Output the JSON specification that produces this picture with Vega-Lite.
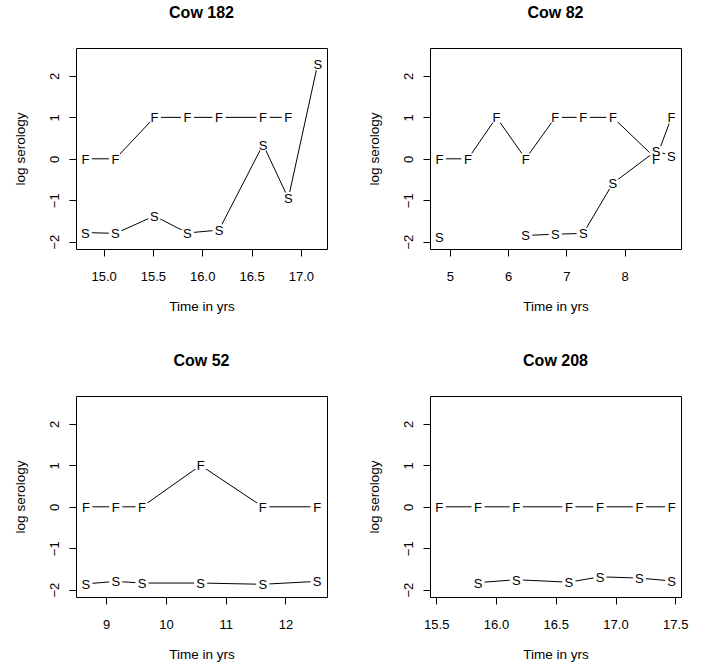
{
  "$schema": "https://vega.github.io/schema/vega-lite/v6.json",
  "padding": {"left": 12, "top": 4, "right": 5, "bottom": 5},
  "background": "white",
  "datasets": {
    "cows": [
      {"cow": "182", "t": 14.815, "series": "F", "value": 0},
      {"cow": "182", "t": 15.12, "series": "F", "value": 0},
      {"cow": "182", "t": 15.515, "series": "F", "value": 1},
      {"cow": "182", "t": 15.85, "series": "F", "value": 1},
      {"cow": "182", "t": 16.17, "series": "F", "value": 1},
      {"cow": "182", "t": 16.617, "series": "F", "value": 1},
      {"cow": "182", "t": 16.873, "series": "F", "value": 1},
      {"cow": "182", "t": 17.171, "series": "F", "value": null},
      {"cow": "182", "t": 14.815, "series": "S", "value": -1.78},
      {"cow": "182", "t": 15.12, "series": "S", "value": -1.8},
      {"cow": "182", "t": 15.515, "series": "S", "value": -1.38},
      {"cow": "182", "t": 15.85, "series": "S", "value": -1.79},
      {"cow": "182", "t": 16.17, "series": "S", "value": -1.72},
      {"cow": "182", "t": 16.617, "series": "S", "value": 0.345},
      {"cow": "182", "t": 16.873, "series": "S", "value": -0.955},
      {"cow": "182", "t": 17.171, "series": "S", "value": 2.29},
      {"cow": "82", "t": 4.82, "series": "F", "value": 0},
      {"cow": "82", "t": 5.31, "series": "F", "value": 0},
      {"cow": "82", "t": 5.8, "series": "F", "value": 1},
      {"cow": "82", "t": 6.3, "series": "F", "value": 0},
      {"cow": "82", "t": 6.81, "series": "F", "value": 1},
      {"cow": "82", "t": 7.29, "series": "F", "value": 1},
      {"cow": "82", "t": 7.8, "series": "F", "value": 1},
      {"cow": "82", "t": 8.54, "series": "F", "value": 0},
      {"cow": "82", "t": 8.805, "series": "F", "value": 1},
      {"cow": "82", "t": 4.82, "series": "S", "value": -1.89},
      {"cow": "82", "t": 5.31, "series": "S", "value": null},
      {"cow": "82", "t": 5.8, "series": "S", "value": null},
      {"cow": "82", "t": 6.3, "series": "S", "value": -1.85},
      {"cow": "82", "t": 6.81, "series": "S", "value": -1.82},
      {"cow": "82", "t": 7.29, "series": "S", "value": -1.8},
      {"cow": "82", "t": 7.8, "series": "S", "value": -0.59},
      {"cow": "82", "t": 8.54, "series": "S", "value": 0.19},
      {"cow": "82", "t": 8.805, "series": "S", "value": 0.07},
      {"cow": "52", "t": 8.66, "series": "F", "value": 0},
      {"cow": "52", "t": 9.16, "series": "F", "value": 0},
      {"cow": "52", "t": 9.6, "series": "F", "value": 0},
      {"cow": "52", "t": 10.58, "series": "F", "value": 1},
      {"cow": "52", "t": 11.62, "series": "F", "value": 0},
      {"cow": "52", "t": 12.53, "series": "F", "value": 0},
      {"cow": "52", "t": 8.66, "series": "S", "value": -1.86},
      {"cow": "52", "t": 9.16, "series": "S", "value": -1.8},
      {"cow": "52", "t": 9.6, "series": "S", "value": -1.84},
      {"cow": "52", "t": 10.58, "series": "S", "value": -1.84},
      {"cow": "52", "t": 11.62, "series": "S", "value": -1.87},
      {"cow": "52", "t": 12.53, "series": "S", "value": -1.8},
      {"cow": "208", "t": 15.525, "series": "F", "value": 0},
      {"cow": "208", "t": 15.85, "series": "F", "value": 0},
      {"cow": "208", "t": 16.17, "series": "F", "value": 0},
      {"cow": "208", "t": 16.61, "series": "F", "value": 0},
      {"cow": "208", "t": 16.87, "series": "F", "value": 0},
      {"cow": "208", "t": 17.2, "series": "F", "value": 0},
      {"cow": "208", "t": 17.47, "series": "F", "value": 0},
      {"cow": "208", "t": 15.525, "series": "S", "value": null},
      {"cow": "208", "t": 15.85, "series": "S", "value": -1.83},
      {"cow": "208", "t": 16.17, "series": "S", "value": -1.76},
      {"cow": "208", "t": 16.61, "series": "S", "value": -1.82},
      {"cow": "208", "t": 16.87, "series": "S", "value": -1.69},
      {"cow": "208", "t": 17.2, "series": "S", "value": -1.72},
      {"cow": "208", "t": 17.47, "series": "S", "value": -1.79}
    ]
  },
  "data": {"name": "cows"},
  "columns": 2,
  "spacing": {"row": 39, "column": 38},
  "concat": [
    {
      "title": "Cow 182",
      "width": 251, "height": 201,
      "transform": [{"filter": "datum.cow === '182'"}],
      "encoding": {
        "x": {"field": "t", "type": "quantitative", "scale": {"domain": [14.72, 17.265], "nice": false, "zero": false}, "axis": {"values": [15, 15.5, 16, 16.5, 17], "format": ".1f", "title": "Time in yrs"}},
        "y": {"field": "value", "type": "quantitative", "scale": {"domain": [-2.177, 2.674], "nice": false, "zero": false}, "axis": {"values": [-2, -1, 0, 1, 2], "format": "d", "title": "log serology"}},
        "detail": {"field": "series"}
      },
      "layer": [
        {"mark": {"type": "line", "color": "black", "strokeWidth": 1}},
        {"mark": {"type": "circle", "size": 177, "color": "white", "opacity": 1}},
        {"mark": {"type": "text", "fontSize": 13, "color": "black", "baseline": "middle", "dy": 1}, "encoding": {"text": {"field": "series"}}}
      ]
    },
    {
      "title": "Cow 82",
      "width": 251, "height": 201,
      "transform": [{"filter": "datum.cow === '82'"}],
      "encoding": {
        "x": {"field": "t", "type": "quantitative", "scale": {"domain": [4.658, 8.969], "nice": false, "zero": false}, "axis": {"values": [5, 6, 7, 8], "format": "d", "title": "Time in yrs"}},
        "y": {"field": "value", "type": "quantitative", "scale": {"domain": [-2.177, 2.674], "nice": false, "zero": false}, "axis": {"values": [-2, -1, 0, 1, 2], "format": "d", "title": "log serology"}},
        "detail": {"field": "series"}
      },
      "layer": [
        {"mark": {"type": "line", "color": "black", "strokeWidth": 1}},
        {"mark": {"type": "circle", "size": 177, "color": "white", "opacity": 1}},
        {"mark": {"type": "text", "fontSize": 13, "color": "black", "baseline": "middle", "dy": 1}, "encoding": {"text": {"field": "series"}}}
      ]
    },
    {
      "title": "Cow 52",
      "width": 251, "height": 201,
      "transform": [{"filter": "datum.cow === '52'"}],
      "encoding": {
        "x": {"field": "t", "type": "quantitative", "scale": {"domain": [8.495, 12.695], "nice": false, "zero": false}, "axis": {"values": [9, 10, 11, 12], "format": "d", "title": "Time in yrs"}},
        "y": {"field": "value", "type": "quantitative", "scale": {"domain": [-2.177, 2.674], "nice": false, "zero": false}, "axis": {"values": [-2, -1, 0, 1, 2], "format": "d", "title": "log serology"}},
        "detail": {"field": "series"}
      },
      "layer": [
        {"mark": {"type": "line", "color": "black", "strokeWidth": 1}},
        {"mark": {"type": "circle", "size": 177, "color": "white", "opacity": 1}},
        {"mark": {"type": "text", "fontSize": 13, "color": "black", "baseline": "middle", "dy": 1}, "encoding": {"text": {"field": "series"}}}
      ]
    },
    {
      "title": "Cow 208",
      "width": 251, "height": 201,
      "transform": [{"filter": "datum.cow === '208'"}],
      "encoding": {
        "x": {"field": "t", "type": "quantitative", "scale": {"domain": [15.448, 17.548], "nice": false, "zero": false}, "axis": {"values": [15.5, 16, 16.5, 17, 17.5], "format": ".1f", "title": "Time in yrs"}},
        "y": {"field": "value", "type": "quantitative", "scale": {"domain": [-2.177, 2.674], "nice": false, "zero": false}, "axis": {"values": [-2, -1, 0, 1, 2], "format": "d", "title": "log serology"}},
        "detail": {"field": "series"}
      },
      "layer": [
        {"mark": {"type": "line", "color": "black", "strokeWidth": 1}},
        {"mark": {"type": "circle", "size": 177, "color": "white", "opacity": 1}},
        {"mark": {"type": "text", "fontSize": 13, "color": "black", "baseline": "middle", "dy": 1}, "encoding": {"text": {"field": "series"}}}
      ]
    }
  ],
  "config": {
    "font": "Liberation Sans",
    "view": {"stroke": "black", "strokeWidth": 1},
    "axis": {"domain": false, "grid": false, "ticks": true, "tickColor": "black", "tickSize": 7, "labelColor": "black", "labelFontSize": 13, "titleFontSize": 13.5, "titleFontWeight": "normal", "titleColor": "black", "labelFlush": false, "labelOverlap": false, "labelFont": "Liberation Sans", "titleFont": "Liberation Sans"},
    "axisX": {"labelPadding": 14, "titlePadding": 16},
    "axisY": {"labelAngle": -90, "labelAlign": "center", "labelBaseline": "bottom", "labelPadding": 8, "titlePadding": 21},
    "title": {"fontSize": 16, "fontWeight": "bold", "color": "black", "anchor": "middle", "baseline": "alphabetic", "offset": 27, "font": "Liberation Sans"}
  }
}
